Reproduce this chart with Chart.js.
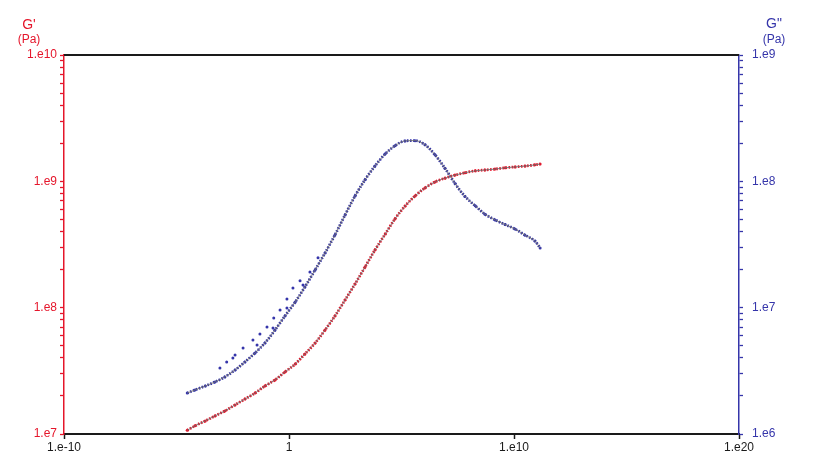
<!DOCTYPE html>
<html>
<head>
<meta charset="utf-8">
<script src="https://cdn.jsdelivr.net/npm/chart.js@4/dist/chart.umd.min.js"></script>
<style>
  html, body { margin: 0; padding: 0; background: #fff; }
  #wrap { width: 813px; height: 472px; }
</style>
</head>
<body>
<div id="wrap"><canvas id="rheoChart" width="813" height="472"></canvas></div>
<script>
// Master curve data (angular frequency, Pa)
const freq = [3.0e-5, 6.6e-5, 1.9e-4, 5.1e-4, 1.4e-3, 4.0e-3, 1.1e-2, 3.1e-2, 8.5e-2, 0.24, 0.66,
  1.9, 5.1, 14.5, 40, 110, 310, 860, 2.4e3, 6.6e3, 1.9e4, 5.1e4, 1.45e5, 4.0e5, 1.1e6, 3.1e6,
  8.5e6, 2.4e7, 6.6e7, 1.9e8, 5.1e8, 1.45e9, 4.0e9, 1.1e10, 3.1e10, 8.5e10, 1.45e11];

const gPrime = [1.07e7, 1.16e7, 1.27e7, 1.39e7, 1.52e7, 1.70e7, 1.89e7, 2.11e7, 2.40e7, 2.68e7, 3.10e7,
  3.58e7, 4.30e7, 5.25e7, 6.66e7, 8.59e7, 1.15e8, 1.54e8, 2.10e8, 2.86e8, 3.83e8, 5.04e8, 6.38e8,
  7.66e8, 8.87e8, 9.89e8, 1.06e9, 1.12e9, 1.17e9, 1.21e9, 1.23e9, 1.25e9, 1.28e9, 1.30e9, 1.32e9,
  1.35e9, 1.37e9];

const gDouble = [2.11e6, 2.23e6, 2.40e6, 2.58e6, 2.83e6, 3.21e6, 3.72e6, 4.38e6, 5.25e6, 6.66e6, 8.59e6,
  1.11e7, 1.46e7, 1.99e7, 2.71e7, 3.76e7, 5.42e7, 7.66e7, 1.03e8, 1.32e8, 1.65e8, 1.91e8, 2.09e8,
  2.10e8, 1.95e8, 1.62e8, 1.27e8, 9.6e7, 7.6e7, 6.4e7, 5.5e7, 4.95e7, 4.55e7, 4.2e7, 3.75e7,
  3.37e7, 2.97e7];

// scattered G'' points above the curve at low frequency
const scatterFreq = [8.5e-4, 1.7e-3, 3.2e-3, 4.0e-3, 9.1e-3, 3.8e-2, 2.5e-2, 5.1e-2, 0.105, 0.195, 0.21,
  0.40, 0.81, 0.81, 1.5, 4.2, 3.1, 8.5, 19.5];
const scatterG2 = [3.33e6, 3.72e6, 4.0e6, 4.22e6, 4.80e6, 5.07e6, 5.55e6, 6.19e6, 7.03e6, 6.9e6, 8.28e6,
  9.59e6, 9.95e6, 1.17e7, 1.43e7, 1.51e7, 1.63e7, 1.92e7, 2.48e7];

const xTicks = [1e-10, 1, 1e10, 1e20];

const RED = "#e5162b";
const BLUE = "#3535aa";
const FIT = "#6e6e6e";
const FONT = "'Liberation Sans', Arial, sans-serif";

function pts(xs, ys) {
  return xs.map((x, i) => ({ x: x, y: ys[i] }));
}

// 1.e7 style labels, only on decades
function decadeLabel(v) {
  const e = Math.round(Math.log10(v));
  if (Math.abs(v / Math.pow(10, e) - 1) > 1e-6) return "";
  return e === 0 ? "1" : "1.e" + e;
}

function decadeTicks(scale) {
  const lo = Math.round(Math.log10(scale.min));
  const hi = Math.round(Math.log10(scale.max));
  const t = [];
  for (let e = lo; e <= hi; e++) {
    for (let m = 1; m <= 9; m++) {
      if (e === hi && m > 1) break;
      t.push({ value: m * Math.pow(10, e) });
    }
  }
  scale.ticks = t;
}

// axis headers and top border
const decorPlugin = {
  id: "decor",
  afterDraw(chart) {
    const c = chart.ctx;
    const a = chart.chartArea;
    c.save();
    c.strokeStyle = "#1a1a1a";
    c.lineWidth = 2;
    c.beginPath();
    c.moveTo(a.left, a.top);
    c.lineTo(a.right, a.top);
    c.stroke();
    c.textAlign = "center";
    c.textBaseline = "middle";
    c.fillStyle = RED;
    c.font = "14px " + FONT;
    c.fillText("G'", a.left - 35, a.top - 30);
    c.font = "12px " + FONT;
    c.fillText("(Pa)", a.left - 35, a.top - 15);
    c.fillStyle = BLUE;
    c.font = "14px " + FONT;
    c.fillText('G"', a.right + 35, a.top - 31);
    c.font = "12px " + FONT;
    c.fillText("(Pa)", a.right + 35, a.top - 15);
    c.restore();
  },
};

const ctx = document.getElementById("rheoChart");

new Chart(ctx, {
  type: "scatter",
  data: {
    datasets: [
      {
        label: "G' fit",
        yAxisID: "y",
        data: pts(freq, gPrime),
        showLine: true,
        borderColor: FIT,
        borderWidth: 0.9,
        pointRadius: 0,
        cubicInterpolationMode: "monotone",
        order: 0,
      },
      {
        label: 'G" fit',
        yAxisID: "y2",
        data: pts(freq, gDouble),
        showLine: true,
        borderColor: FIT,
        borderWidth: 0.9,
        pointRadius: 0,
        cubicInterpolationMode: "monotone",
        order: 0,
      },
      {
        label: "G'",
        yAxisID: "y",
        data: pts(freq, gPrime),
        showLine: true,
        borderColor: RED,
        borderWidth: 2.8,
        borderDash: [1.6, 1.5],
        cubicInterpolationMode: "monotone",
        pointRadius: 1.5,
        pointBorderWidth: 0,
        pointBackgroundColor: RED,
        order: 1,
      },
      {
        label: 'G"',
        yAxisID: "y2",
        data: pts(freq, gDouble),
        showLine: true,
        borderColor: BLUE,
        borderWidth: 2.8,
        borderDash: [1.6, 1.5],
        cubicInterpolationMode: "monotone",
        pointRadius: 1.5,
        pointBorderWidth: 0,
        pointBackgroundColor: BLUE,
        order: 1,
      },
      {
        label: 'G" scatter',
        yAxisID: "y2",
        data: pts(scatterFreq, scatterG2),
        showLine: false,
        pointRadius: 1.5,
        pointBorderWidth: 0,
        pointBackgroundColor: BLUE,
        order: 1,
      },
    ],
  },
  options: {
    responsive: false,
    animation: false,
    layout: { padding: { top: 55, left: 0, right: 0, bottom: 0 } },
    plugins: {
      legend: { display: false },
      tooltip: { enabled: false },
    },
    scales: {
      x: {
        type: "logarithmic",
        position: "bottom",
        min: 1e-10,
        max: 1e20,
        afterBuildTicks: (s) => { s.ticks = xTicks.map((v) => ({ value: v })); },
        afterFit: (s) => { s.height = 38; },
        ticks: {
          autoSkip: false,
          maxRotation: 0,
          padding: 1,
          color: "#1a1a1a",
          font: { family: FONT, size: 12 },
          callback: (v) => decadeLabel(v),
        },
        grid: { drawOnChartArea: false, tickLength: 5, tickColor: "#1a1a1a", tickWidth: 1.5 },
        border: { color: "#1a1a1a", width: 2 },
      },
      y: {
        type: "logarithmic",
        position: "left",
        min: 1e7,
        max: 1e10,
        afterBuildTicks: decadeTicks,
        afterFit: (s) => { s.width = 64; },
        ticks: {
          autoSkip: false,
          padding: 3,
          color: RED,
          font: { family: FONT, size: 12 },
          callback: (v) => decadeLabel(v),
        },
        grid: { drawOnChartArea: false, tickLength: 4, tickColor: RED, tickWidth: 1.3 },
        border: { color: RED, width: 1.5 },
      },
      y2: {
        type: "logarithmic",
        position: "right",
        min: 1e6,
        max: 1e9,
        afterBuildTicks: decadeTicks,
        afterFit: (s) => { s.width = 74; },
        ticks: {
          autoSkip: false,
          padding: 9,
          color: BLUE,
          font: { family: FONT, size: 12 },
          callback: (v) => decadeLabel(v),
        },
        grid: { drawOnChartArea: false, tickLength: 4, tickColor: BLUE, tickWidth: 1.3 },
        border: { color: BLUE, width: 1.5 },
      },
    },
  },
  plugins: [decorPlugin],
});
</script>
</body>
</html>
